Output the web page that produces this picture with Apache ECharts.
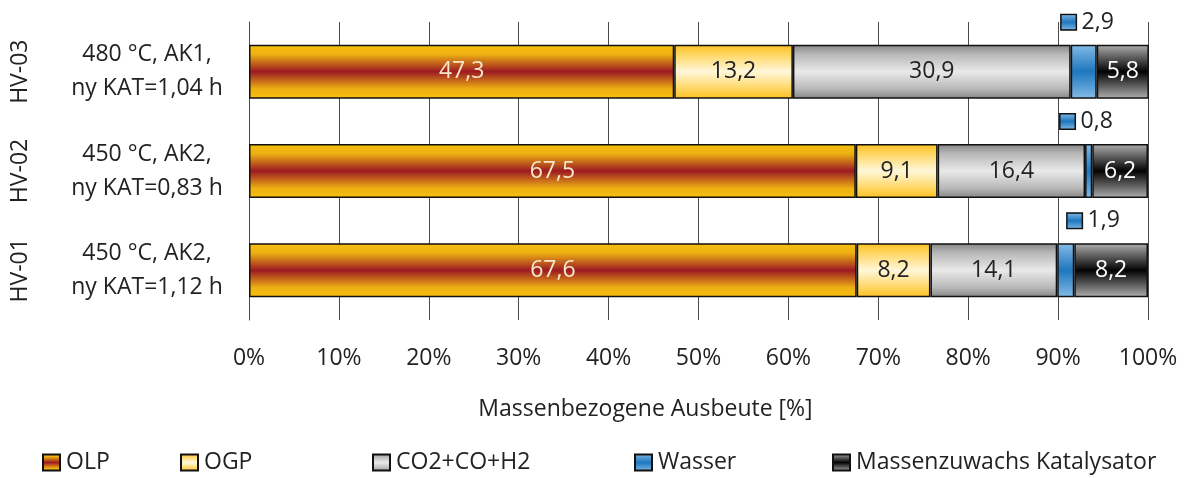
<!DOCTYPE html>
<html>
<head>
<meta charset="utf-8">
<script src="https://cdn.jsdelivr.net/npm/echarts@6/dist/echarts.min.js"></script>
<style>
  html, body { margin: 0; padding: 0; background: #fff; }
  #chart { width: 1189px; height: 478px; }
</style>
</head>
<body>
<div id="chart"></div>
<script>
// Test runs (bottom to top on the category axis)
const runs = ['HV-01', 'HV-02', 'HV-03'];
const conditions = [
  '450 °C, AK2,\nny KAT=1,12 h',
  '450 °C, AK2,\nny KAT=0,83 h',
  '480 °C, AK1,\nny KAT=1,04 h'
];
// Mass yield per product fraction, %
const olp = [67.6, 67.5, 47.3];
const ogp = [8.2, 9.1, 13.2];
const gas = [14.1, 16.4, 30.9];
const wasser = [1.9, 0.8, 2.9];
const katalysator = [8.2, 6.2, 5.8];
const xTicks = [0, 10, 20, 30, 40, 50, 60, 70, 80, 90, 100];

const FONT = '"Open Sans", "Noto Sans", sans-serif';
const FS = 23;
const TEXT = '#222222';

// symmetric vertical gradient: edge colour -> centre colour -> edge colour
function band(edge, mid, centre) {
  return {
    type: 'linear', x: 0, y: 0, x2: 0, y2: 1,
    colorStops: [
      { offset: 0, color: edge },
      { offset: 0.18, color: mid || edge },
      { offset: 0.5, color: centre },
      { offset: 0.82, color: mid || edge },
      { offset: 1, color: edge }
    ]
  };
}

const fills = {
  'OLP': band('#F7C00E', '#EDB012', '#9C1A22'),
  'OGP': band('#FDBF1E', '#FFD662', '#FFF7DA'),
  'CO2+CO+H2': band('#858585', '#B8B8B8', '#E9E9E9'),
  'Wasser': band('#86BDE8', '#5FA2D8', '#1E77BD'),
  'Massenzuwachs Katalysator': band('#B0B0B0', '#707070', '#030303')
};

function fmt(v) { return String(v).replace('.', ','); }

// label offsets for the small water segments (drawn above the bar)
const wasserLabelShift = [[28, 0], [-2, 0], [4, 0]];

function series(name, values, labelColor) {
  return {
    name: name,
    type: 'bar',
    stack: 'yield',
    barWidth: 54,
    clip: false,
    itemStyle: { color: fills[name], borderColor: '#111', borderWidth: 1.5 },
    label: {
      show: true,
      position: 'inside',
      color: labelColor,
      fontFamily: FONT,
      fontSize: FS,
      formatter: p => fmt(p.value)
    },
    emphasis: { disabled: true },
    data: values.slice()
  };
}

const allSeries = [
  series('OLP', olp, '#F6E7CC'),
  series('OGP', ogp, TEXT),
  series('CO2+CO+H2', gas, TEXT),
  (function () {
    const s = series('Wasser', wasser, TEXT);
    s.label = {
      show: true,
      position: 'top',
      distance: 11,
      fontFamily: FONT,
      fontSize: FS,
      color: TEXT,
      formatter: p => '{box|} ' + fmt(p.value),
      rich: {
        box: {
          width: 14, height: 14,
          backgroundColor: band('#86BDE8', '#5FA2D8', '#1E77BD'),
          borderColor: '#111', borderWidth: 1.5
        }
      }
    };
    s.data = wasser.map((v, i) => ({ value: v, label: { offset: wasserLabelShift[i] } }));
    return s;
  })(),
  series('Massenzuwachs Katalysator', katalysator, '#FFFFFF')
];

const legendLefts = [42, 180, 372, 634, 832];
const legends = allSeries.map((s, i) => ({
  data: [{ name: s.name, icon: 'rect' }],
  left: legendLefts[i],
  top: 451,
  padding: 0,
  itemWidth: 17,
  itemHeight: 16,
  itemGap: 0,
  selectedMode: false,
  textStyle: { fontFamily: FONT, fontSize: FS, color: TEXT, padding: [0, 0, 0, 1] }
}));

const chart = echarts.init(document.getElementById('chart'), null, { renderer: 'canvas' });
chart.setOption({
  animation: false,
  backgroundColor: '#fff',
  grid: { left: 249, right: 41, top: 22, bottom: 158, containLabel: false },
  legend: legends,
  xAxis: {
    type: 'value',
    min: 0,
    max: 100,
    interval: 10,
    name: 'Massenbezogene Ausbeute [%]',
    nameLocation: 'middle',
    nameGap: 78,
    nameTextStyle: { fontFamily: FONT, fontSize: FS, color: TEXT, padding: [0, 106, 0, 0] },
    axisLine: { show: false },
    axisTick: { show: false },
    splitLine: { show: true, lineStyle: { color: '#4a4a4a', width: 1 } },
    axisLabel: {
      margin: 27,
      fontFamily: FONT,
      fontSize: FS,
      color: TEXT,
      formatter: v => xTicks.indexOf(v) >= 0 ? v + '%' : ''
    }
  },
  yAxis: [
    {
      type: 'category',
      data: conditions,
      position: 'left',
      axisLine: { show: true, lineStyle: { color: '#4a4a4a', width: 1 } },
      axisTick: { show: false },
      axisLabel: {
        margin: 102,
        align: 'center',
        fontFamily: FONT,
        fontSize: FS,
        lineHeight: 34,
        color: TEXT
      }
    },
    {
      type: 'category',
      data: runs,
      position: 'left',
      axisLine: { show: false },
      axisTick: { show: false },
      axisLabel: {
        rotate: 90,
        margin: 217,
        fontFamily: FONT,
        fontSize: FS,
        color: TEXT
      }
    }
  ],
  series: allSeries
});
</script>
</body>
</html>
